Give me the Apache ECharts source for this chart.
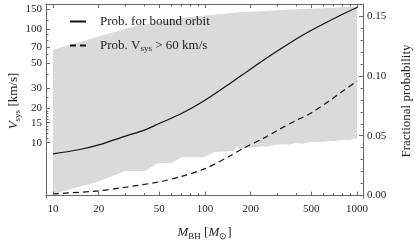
<!DOCTYPE html>
<html><head><meta charset="utf-8">
<script src="https://cdn.jsdelivr.net/npm/echarts@6/dist/echarts.min.js"></script>
<style>html,body{margin:0;padding:0;background:#fff}#c{width:415px;height:243px}</style>
</head><body><div id="c"></div>
<script>
// ---- tick values ----
const massTicksMajor = [10, 20, 50, 100, 200, 500, 1000];
const massTicksMinor = [30, 40, 60, 70, 80, 90, 300, 400, 600, 700, 800, 900];
const vTicksMajor = [10, 15, 20, 30, 50, 70, 100, 150];
const vTicksMinor = [11, 12, 13, 14, 16, 17, 18, 19, 25, 40, 60, 80, 90, 120];
const probTicksMajor = [0, 0.05, 0.10, 0.15];
const probTicksMinor = [0.01, 0.02, 0.03, 0.04, 0.06, 0.07, 0.08, 0.09, 0.11, 0.12, 0.13, 0.14];

// ---- grey band (V_sys range, km/s) ----
const bandUpperMass = [10, 13, 17.5, 25.6, 37, 61, 80, 120, 170, 250, 400, 600, 800, 958, 1000];
const bandUpperV    = [66, 73, 82, 95, 109, 122, 128, 135, 141, 145, 150, 153, 156, 158, 160];
const bandLowerMass = [10, 19.9, 29.8, 40.3, 49.3, 60.4, 70.3, 97, 116, 157, 163, 168, 185, 210, 240, 260, 290, 330, 360, 400, 440, 480, 540, 600, 660, 720, 800, 880, 950, 1000];
const bandLowerV    = [3.5, 4.55, 5.63, 5.63, 6.6, 6.6, 7.43, 7.43, 8.25, 8.5, 9.4, 8.7, 8.95, 9.1, 9.3, 9.2, 9.6, 9.7, 9.65, 10.0, 9.8, 10.1, 10.2, 10.15, 10.4, 10.3, 10.6, 10.5, 10.8, 10.7];

// ---- probability curves ----
const boundMass = [10, 15, 20, 30, 40, 50, 70, 100, 150, 200, 268, 362, 491, 773, 1000];
const boundProb = [0.0348, 0.0385, 0.0423, 0.0497, 0.0547, 0.0602, 0.0685, 0.0796, 0.0947, 0.1058, 0.1168, 0.1275, 0.1374, 0.1504, 0.1571];
const fastMass = [10, 20, 30, 50, 70, 100, 146, 178, 242, 300, 401, 500, 664, 800, 1000];
const fastProb = [0.0014, 0.004, 0.007, 0.0115, 0.016, 0.0225, 0.0331, 0.0395, 0.0478, 0.0545, 0.063, 0.069, 0.0795, 0.087, 0.0955];

const zip = (a, b) => a.map((v, i) => [v, b[i]]);
const FONT = "'Liberation Serif', 'Times New Roman', serif";
const AX = '#666';
const TXT = '#222';
const rich = {
  f: { fontFamily: FONT, fontSize: 13, color: TXT, padding: [0, 0, 0, 9] },
  n: { fontFamily: FONT, fontSize: 13, color: TXT },
  i: { fontFamily: FONT, fontSize: 13, fontStyle: 'italic', color: TXT },
  s: { fontFamily: FONT, fontSize: 9, color: TXT, padding: [7, 0, 0, 0] }
};
const xR = { min: 9, max: 1095 };
const yL = { min: 3.25, max: 167 };
const yR = { min: -0.002, max: 0.16 };

function xAx(pos, vals, len, line, labels, extra) {
  return Object.assign({
    type: 'log', logBase: 10, min: xR.min, max: xR.max, position: pos, z: 5,
    axisLine: { show: line, lineStyle: { color: AX, width: 1 } },
    axisTick: { show: true, inside: true, length: len, customValues: vals, lineStyle: { color: AX, width: 1 } },
    axisLabel: labels ? { show: true, customValues: vals, margin: 6, fontFamily: FONT, fontSize: 11, color: TXT,
      formatter: v => String(Math.round(v)) } : { show: false },
    splitLine: { show: false }, minorTick: { show: false }
  }, extra || {});
}
function yAx(type, r, pos, vals, len, line, labels, extra) {
  return Object.assign({
    type: type, min: r.min, max: r.max, position: pos, z: 5,
    axisLine: { show: line, lineStyle: { color: AX, width: 1 } },
    axisTick: { show: true, inside: true, length: len, customValues: vals, lineStyle: { color: AX, width: 1 } },
    axisLabel: labels ? Object.assign({ show: true, customValues: vals, fontFamily: FONT, fontSize: 11, color: TXT }, labels) : { show: false },
    splitLine: { show: false }, minorTick: { show: false }
  }, type === 'log' ? { logBase: 10 } : {}, extra || {});
}

const chart = echarts.init(document.getElementById('c'), null, { renderer: 'canvas' });
chart.setOption({
  animation: false,
  backgroundColor: '#fff',
  grid: { left: 46, right: 52, top: 4, bottom: 45, containLabel: false, outerBoundsMode: 'none' },
  legend: {
    data: ['Prob. for bound orbit', 'Prob. V_sys > 60 km/s'],
    orient: 'vertical', left: 69, top: 15, padding: 0, itemWidth: 16, itemHeight: 14, itemGap: 11,
    itemStyle: { color: 'rgba(0,0,0,0)', borderColor: 'rgba(0,0,0,0)', borderWidth: 0, opacity: 0 },
    textStyle: { fontFamily: FONT, fontSize: 13, color: TXT, rich: rich },
    formatter: function (name) {
      return name.indexOf('V_sys') >= 0 ? '{f|Prob. V}{s|sys}{n| > 60 km/s}' : '{f|' + name + '}';
    }
  },
  xAxis: [
    xAx('bottom', massTicksMajor, 4, true, true, {
      name: '{i|M}{s|BH}{n| [}{i|M}{s|\u2299}{n|]}', nameLocation: 'middle', nameGap: 27,
      nameMoveOverlap: false, nameTextStyle: { rich: rich }
    }),
    xAx('bottom', massTicksMinor, 2.5, false, false),
    xAx('top', massTicksMajor, 4, true, false),
    xAx('top', massTicksMinor, 2.5, false, false)
  ],
  yAxis: [
    yAx('log', yL, 'left', vTicksMajor, 4, true, { margin: 4, formatter: v => String(Math.round(v)) }, {
      name: '{i|V}{s|sys}{n| [km/s]}', nameLocation: 'middle', nameGap: 24, nameMoveOverlap: false,
      nameTextStyle: { rich: rich }
    }),
    yAx('log', yL, 'left', vTicksMinor, 2.5, false, null),
    yAx('value', yR, 'right', probTicksMajor, 4, true, { margin: 4, formatter: v => v.toFixed(2) }, {
      name: 'Fractional probability', nameLocation: 'middle', nameGap: 37, nameMoveOverlap: false,
      nameTextStyle: { fontFamily: FONT, fontSize: 13, color: TXT }
    }),
    yAx('value', yR, 'right', probTicksMinor, 2.5, false, null)
  ],
  series: [
    { type: 'line', name: 'band upper', xAxisIndex: 0, yAxisIndex: 0, data: zip(bandUpperMass, bandUpperV),
      symbol: 'none', silent: true, lineStyle: { width: 0, opacity: 0 },
      areaStyle: { color: '#dadada', opacity: 1, origin: 'start' } },
    { type: 'line', name: 'band lower', xAxisIndex: 0, yAxisIndex: 0, data: zip(bandLowerMass, bandLowerV),
      symbol: 'none', silent: true, lineStyle: { width: 0, opacity: 0 },
      areaStyle: { color: '#ffffff', opacity: 1, origin: 'start' } },
    { type: 'line', name: 'Prob. for bound orbit', xAxisIndex: 0, yAxisIndex: 2, data: zip(boundMass, boundProb),
      symbol: 'none', smooth: 0.3, color: '#111', lineStyle: { color: '#111', width: 1.2 } },
    { type: 'line', name: 'Prob. V_sys > 60 km/s', xAxisIndex: 0, yAxisIndex: 2, data: zip(fastMass, fastProb),
      symbol: 'none', smooth: 0.3, color: '#111', lineStyle: { color: '#111', width: 1.2, type: [6, 4] } }
  ]
});
</script>
</body></html>
